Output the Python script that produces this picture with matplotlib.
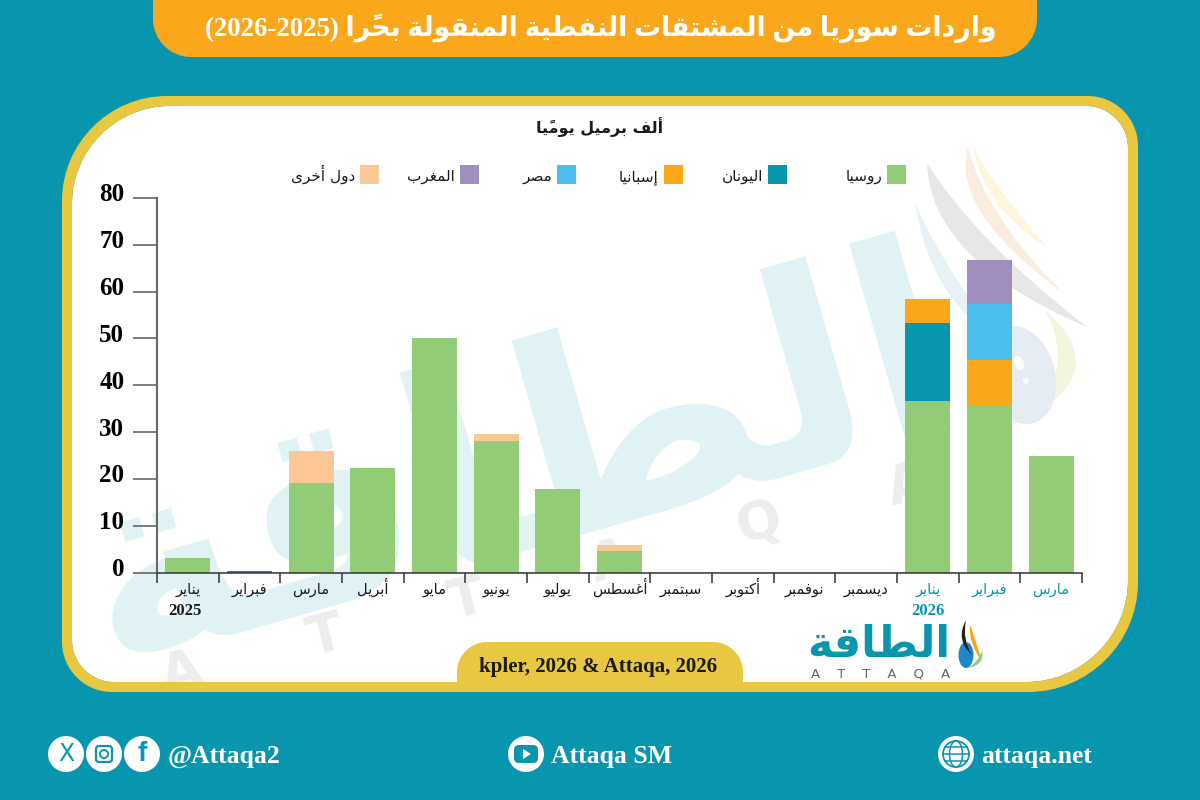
import matplotlib
matplotlib.use('Agg')
import matplotlib.pyplot as plt
import numpy as np
from matplotlib.patches import PathPatch, Rectangle, Circle, Ellipse, FancyBboxPatch, Polygon
from matplotlib.path import Path
from matplotlib.transforms import ScaledTranslation

# values, thousand barrels a day
months = ['يناير', 'فبراير', 'مارس', 'أبريل', 'مايو', 'يونيو', 'يوليو', 'أغسطس',
          'سبتمبر', 'أكتوبر', 'نوفمبر', 'ديسمبر', 'يناير', 'فبراير', 'مارس']
russia = [3.0, 0, 19.1, 22.4, 50.0, 28.0, 17.9, 4.6, 0, 0, 0, 0, 36.7, 35.6, 24.8]
greece = [0, 0.3, 0, 0, 0, 0, 0, 0, 0, 0, 0, 0, 16.6, 0, 0]
spain = [0, 0, 0, 0, 0, 0, 0, 0, 0, 0, 0, 0, 5.1, 9.8, 0]
egypt = [0, 0, 0, 0, 0, 0, 0, 0, 0, 0, 0, 0, 0, 11.9, 0]
morocco = [0, 0, 0, 0, 0, 0, 0, 0, 0, 0, 0, 0, 0, 9.5, 0]
others = [0, 0, 6.9, 0, 0, 1.6, 0, 1.2, 0, 0, 0, 0, 0, 0, 0]

series_names = ['روسيا', 'اليونان', 'إسبانيا', 'مصر', 'المغرب', 'دول أخرى']
series_colors = ['#92CC76', '#0896AE', '#FBA71B', '#4CBFEF', '#A08FBE', '#FCC795']
legend_x = [887, 768, 664, 557, 460, 360]

title = 'واردات سوريا من المشتقات النفطية المنقولة بحرًا (2026-2025)'
unit = 'ألف برميل يوميًا'
source = 'kpler, 2026 & Attaqa, 2026'
brand = 'الطاقة'

TEAL = '#0896AE'
ORANGE = '#FBA71B'
YELLOW = '#E8C840'
SERIF = ['Liberation Serif', 'DejaVu Sans']

# matplotlib does not join arabic letters, so pick the presentation forms here
# letter: isolated, final, initial, medial
forms = {
    'ا': 'ﺍﺎ', 'أ': 'ﺃﺄ', 'إ': 'ﺇﺈ', 'د': 'ﺩﺪ', 'ذ': 'ﺫﺬ', 'ر': 'ﺭﺮ', 'ز': 'ﺯﺰ',
    'و': 'ﻭﻮ', 'ة': 'ﺓﺔ', 'ى': 'ﻯﻰ',
    'ب': 'ﺏﺐﺑﺒ', 'ت': 'ﺕﺖﺗﺘ', 'ج': 'ﺝﺞﺟﺠ', 'ح': 'ﺡﺢﺣﺤ', 'خ': 'ﺥﺦﺧﺨ', 'س': 'ﺱﺲﺳﺴ',
    'ش': 'ﺵﺶﺷﺸ', 'ص': 'ﺹﺺﺻﺼ', 'ط': 'ﻁﻂﻃﻄ', 'ع': 'ﻉﻊﻋﻌ', 'غ': 'ﻍﻎﻏﻐ', 'ف': 'ﻑﻒﻓﻔ',
    'ق': 'ﻕﻖﻗﻘ', 'ك': 'ﻙﻚﻛﻜ', 'ل': 'ﻝﻞﻟﻠ', 'م': 'ﻡﻢﻣﻤ', 'ن': 'ﻥﻦﻧﻨ', 'ه': 'ﻩﻪﻫﻬ',
    'ي': 'ﻱﻲﻳﻴ',
}
TANWIN = '\u064b'


def shape_word(word):
    letters = word.replace(TANWIN, '')
    mark_at = word.find(TANWIN) - 1 if TANWIN in word else -1
    out = []
    for i, c in enumerate(letters):
        f = forms[c]
        before = i > 0 and len(forms[letters[i - 1]]) == 4
        after = i < len(letters) - 1 and len(f) == 4
        if before and after:
            g = f[3]
        elif before:
            g = f[1]
        elif after:
            g = f[2]
        else:
            g = f[0]
        # the mark stays behind its letter after reversing, it has no advance
        if i == mark_at:
            g += TANWIN
        out.append(g)
    return ''.join(out[::-1])


def ar(text):
    words = []
    for w in text.split(' ')[::-1]:
        if w and w[0] in forms:
            words.append(shape_word(w))
        else:
            words.append(w)
    return ' '.join(words)


def panel_path(x0, y0, x1, y1, tl, tr, br, bl):
    k = 0.45
    verts = [(x0 + tl, y0), (x1 - tr, y0),
             (x1 - tr * k, y0), (x1, y0 + tr * k), (x1, y0 + tr),
             (x1, y1 - br),
             (x1, y1 - br * k), (x1 - br * k, y1), (x1 - br, y1),
             (x0 + bl, y1),
             (x0 + bl * k, y1), (x0, y1 - bl * k), (x0, y1 - bl),
             (x0, y0 + tl),
             (x0, y0 + tl * k), (x0 + tl * k, y0), (x0 + tl, y0)]
    codes = [Path.MOVETO, Path.LINETO,
             Path.CURVE4, Path.CURVE4, Path.CURVE4,
             Path.LINETO,
             Path.CURVE4, Path.CURVE4, Path.CURVE4,
             Path.LINETO,
             Path.CURVE4, Path.CURVE4, Path.CURVE4,
             Path.LINETO,
             Path.CURVE4, Path.CURVE4, Path.CURVE4]
    return Path(verts, codes)


def with_hole(outer, hole):
    # hole runs the other way round so it stays empty
    rev = Path(hole.vertices[::-1], [Path.MOVETO] + list(hole.codes[1:][::-1]))
    return Path.make_compound_path(outer, rev)


def blob(points):
    # closed smooth shape through control points
    n = len(points)
    verts = [points[0]]
    codes = [Path.MOVETO]
    for i in range(1, n - 1, 2):
        verts += [points[i], points[i + 1]]
        codes += [Path.CURVE3, Path.CURVE3]
    return Path(verts, codes)


fig = plt.figure(figsize=(12, 8), dpi=100, facecolor=TEAL)

# background layer in picture pixels
bg = fig.add_axes([0, 0, 1, 1], zorder=0)
bg.set_xlim(0, 1200)
bg.set_ylim(800, 0)
bg.axis('off')

outer_path = panel_path(62, 96, 1138, 692, 105, 50, 110, 50)
inner_path = panel_path(72, 106, 1128, 682, 98, 42, 102, 42)
page_path = Path([(0, 0), (1200, 0), (1200, 800), (0, 800), (0, 0)],
                 [Path.MOVETO, Path.LINETO, Path.LINETO, Path.LINETO, Path.LINETO])
bg.add_patch(PathPatch(inner_path, fc='white', ec='none', zorder=0.5))

# watermark, the frame drawn after it hides what runs over the panel edge
bg.text(519, 470, ar(brand), fontsize=195, fontweight='bold', family='DejaVu Sans',
        color='#E1F2F5', rotation=16, ha='center', va='center', rotation_mode='anchor',
        zorder=0.6)
bg.text(545, 580, 'A      T      T      A      Q      A', fontsize=38, fontweight='bold',
        family='DejaVu Sans', color='#EDEDED', rotation=14.5, ha='center', va='center',
        rotation_mode='anchor', zorder=0.6)
bg.add_patch(PathPatch(with_hole(page_path, outer_path), fc=TEAL, ec='none', zorder=0.65))
bg.add_patch(PathPatch(with_hole(outer_path, inner_path), fc=YELLOW, ec='none', zorder=0.66))

swirls = [
    ([(915, 203), (930, 300), (1000, 340), (945, 270), (915, 203)], '#E8F1F6'),
    ([(927, 163), (930, 260), (1087, 327), (975, 240), (927, 163)], '#E7E7E7'),
    ([(968, 147), (950, 210), (1063, 293), (985, 215), (968, 147)], '#FBECE0'),
    ([(973, 147), (985, 210), (1047, 247), (1000, 195), (973, 147)], '#FDF6DC'),
    ([(1045, 310), (1125, 380), (1000, 430), (1085, 385), (1045, 310)], '#F1F7DF'),
]
for pts, col in swirls:
    bg.add_patch(PathPatch(blob(pts), fc=col, ec='none', zorder=0.7))
bg.add_patch(Ellipse((1020, 375), 70, 100, angle=-15, fc='#E6ECF4', ec='none', zorder=0.7))
bg.add_patch(Ellipse((1019, 363), 9, 15, angle=-20, fc='white', ec='none', zorder=0.7))
bg.add_patch(Circle((1026, 381), 3, fc='white', ec='none', zorder=0.7))

# header and source tab
bg.add_patch(PathPatch(panel_path(153, -60, 1037, 57, 1, 1, 38, 38), fc=ORANGE, ec='none'))
bg.text(601, 28, ar(title), fontsize=19.3, fontweight='bold', family=SERIF, color='white',
        ha='center', va='center')
bg.add_patch(PathPatch(panel_path(457, 642, 743, 690, 30, 30, 1, 1), fc=YELLOW, ec='none'))
bg.text(598, 667, source, fontsize=15, fontweight='bold', family='Liberation Serif',
        color='#1a1a1a', ha='center', va='center')

bg.text(600, 127, ar(unit), fontsize=11.5, fontweight='bold', family='DejaVu Sans',
        color='#1a1a1a', ha='center', va='center')

# legend
for name, col, lx in zip(series_names, series_colors, legend_x):
    bg.add_patch(Rectangle((lx, 165), 19, 19, fc=col, ec='none'))
    bg.text(lx - 5, 181, ar(name), fontsize=11, family='DejaVu Sans', color='#1a1a1a',
            ha='right', va='baseline')

# logo
bg.text(879, 645, ar(brand), fontsize=31, fontweight='bold', family='DejaVu Sans', color=TEAL,
        ha='center', va='center')
bg.text(881, 674, 'A    T    T    A    Q    A', fontsize=9.5, family='DejaVu Sans',
        color='#666666', ha='center', va='center')
bg.add_patch(Ellipse((966, 655), 15, 26, fc='#1E88C8', ec='none'))
bg.add_patch(PathPatch(blob([(966, 620), (955, 640), (972, 655), (962, 640), (966, 620)]),
                       fc='#222222', ec='none'))
bg.add_patch(PathPatch(blob([(970, 625), (968, 642), (982, 662), (976, 640), (970, 625)]),
                       fc=ORANGE, ec='none'))
bg.add_patch(PathPatch(blob([(982, 650), (985, 665), (968, 668), (980, 660), (982, 650)]),
                       fc='#92CC76', ec='none'))

# footer
for cx in [66, 104, 142, 526, 956]:
    bg.add_patch(Circle((cx, 754), 18, fc='white', ec='none'))
bg.text(66, 754, 'X', fontsize=17, family='DejaVu Sans', color=TEAL, ha='center', va='center')
bg.add_patch(FancyBboxPatch((96, 746), 16, 16, boxstyle='round,pad=0,rounding_size=3',
                            fc='none', ec=TEAL, lw=1.6))
bg.add_patch(Circle((104, 754), 4, fc='none', ec=TEAL, lw=1.4))
bg.text(142, 754, 'f', fontsize=20, fontweight='bold', family='Liberation Sans', color=TEAL,
        ha='center', va='center')
bg.add_patch(FancyBboxPatch((514, 745), 24, 18, boxstyle='round,pad=0,rounding_size=5',
                            fc=TEAL, ec='none'))
bg.add_patch(Polygon([(523, 749), (523, 759), (531, 754)], fc='white', ec='none'))
bg.add_patch(Circle((956, 754), 13, fc='none', ec=TEAL, lw=1.3))
bg.add_patch(Ellipse((956, 754), 13, 26, fc='none', ec=TEAL, lw=1.1))
bg.plot([943, 969], [754, 754], color=TEAL, lw=1.1)
bg.plot([945, 967], [747, 747], color=TEAL, lw=1.1)
bg.plot([945, 967], [761, 761], color=TEAL, lw=1.1)
for tx, label in [(168, '@Attaqa2'), (551, 'Attaqa SM'), (981, 'attaqa.net')]:
    bg.text(tx, 756, label, fontsize=18.5, fontweight='bold', family='Liberation Serif',
            color='white', ha='left', va='center')

# chart
ax = fig.add_axes([157 / 1200, 1 - 572.5 / 800, (1082 - 157) / 1200, (572.5 - 198) / 800], zorder=1)
ax.patch.set_alpha(0)
x = np.arange(len(months))
bottom = np.zeros(len(months))
for vals, col in zip([russia, greece, spain, egypt, morocco, others], series_colors):
    ax.bar(x, vals, width=0.73, bottom=bottom, color=col)
    bottom = bottom + np.array(vals)

ax.set_xlim(-0.5, len(months) - 0.5)
ax.set_ylim(0, 80)
ax.set_yticks(range(0, 90, 10))
ax.tick_params(axis='y', length=17.5, width=1.2, color='#666666', pad=6, labelsize=18)
for lab in ax.get_yticklabels():
    lab.set_family('Liberation Serif')
    lab.set_fontweight('bold')
    lab.set_transform(lab.get_transform() + ScaledTranslation(0, 4 / 72, fig.dpi_scale_trans))

ax.set_xticks(np.arange(-0.5, len(months)))
ax.set_xticklabels([])
ax.tick_params(axis='x', which='major', length=7, width=1.1, color='#333333')
ax.set_xticks(x, minor=True)
ax.set_xticklabels([ar(m) for m in months], minor=True, fontsize=10.5, family='DejaVu Sans')
ax.tick_params(axis='x', which='minor', length=0, pad=15.5)
for i, lab in enumerate(ax.get_xticklabels(minor=True)):
    lab.set_color(TEAL if i >= 12 else '#1a1a1a')
    lab.set_verticalalignment('baseline')

year_trans = ax.get_xaxis_transform()
for pos, yr, col in [(-0.05, '2025', '#1a1a1a'), (12, '2026', TEAL)]:
    ax.text(pos, -0.103, yr, transform=year_trans, fontsize=12, fontweight='bold',
            family='Liberation Serif', color=col, ha='center', va='center')

for side in ['top', 'right']:
    ax.spines[side].set_visible(False)
ax.spines['left'].set_color('#666666')
ax.spines['left'].set_linewidth(1.5)
ax.spines['bottom'].set_color('#333333')
ax.spines['bottom'].set_linewidth(1.1)

fig.savefig('out.png', dpi=100, facecolor=TEAL)
